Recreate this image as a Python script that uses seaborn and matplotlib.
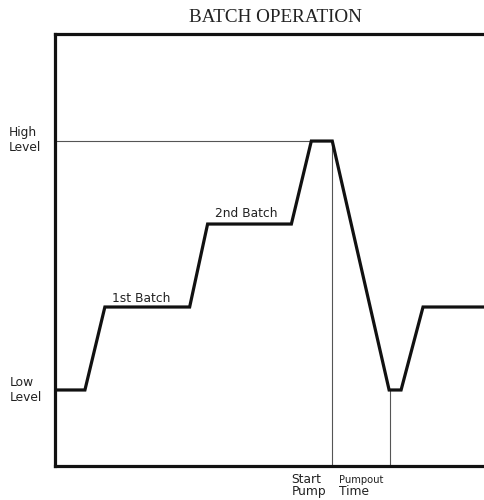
import matplotlib
matplotlib.use("Agg")
import matplotlib.pyplot as plt
import seaborn as sns
import pandas as pd

# ── Data ──────────────────────────────────────────────
# time points (arbitrary units) and tank level (0 = low, 3 = high)
time = [0, 30, 50, 135, 153, 237, 257, 278, 335, 347, 369, 430]
level = [0, 0, 1, 1, 2, 2, 3, 3, 0, 0, 1, 1]
high_level = 3
low_level = 0
start_pump_t = 278
pumpout_end_t = 336
batch_labels = ["1st Batch", "2nd Batch"]
batch_label_x = [57, 160]
batch_label_y = [1.10, 2.13]

df = pd.DataFrame({"time": time, "level": level})

sns.set_style("white")
plt.rcParams["font.family"] = ["DejaVu Sans"]

fig = plt.figure(figsize=(4.85, 5.0), dpi=100)
ax = fig.add_axes([55 / 485, 34 / 500, 1 - 55 / 485 + 0.01, 432 / 500])

# reference lines
ax.plot([0, start_pump_t - 20], [high_level, high_level], color="#555555", lw=0.8)
ax.plot([start_pump_t, start_pump_t], [-1, high_level], color="#555555", lw=0.8)
ax.plot([pumpout_end_t, pumpout_end_t], [-1, low_level], color="#555555", lw=0.8)

sns.lineplot(data=df, x="time", y="level", sort=False, color="#111111",
             lw=2.3, ax=ax, solid_joinstyle="miter")

ax.set_xlim(0, 436)
ax.set_ylim(-0.916, 4.29)
ax.set_xticks([])
ax.set_yticks([])
ax.set_xlabel("")
ax.set_ylabel("")
for side in ["left", "top", "bottom"]:
    ax.spines[side].set_linewidth(2.3)
    ax.spines[side].set_color("#111111")
ax.spines["right"].set_visible(False)

txt = dict(fontsize=8.8, va="center", ha="left", color="#222222", clip_on=False)
for lab, bx, by in zip(batch_labels, batch_label_x, batch_label_y):
    ax.text(bx, by, lab, **txt)

ax.text(-46, high_level + 0.01, "High\nLevel", linespacing=1.15, **txt)
ax.text(-45, low_level, "Low\nLevel", linespacing=1.15, **txt)
ax.text(237, -1.15, "Start\nPump", linespacing=0.95, **txt)
ax.text(285, -1.08, "Pumpout", fontsize=7.2, va="center", ha="left",
        color="#222222", clip_on=False)
ax.text(285, -1.22, "Time", **txt)

fig.text(275 / 485, 1 - 17 / 500, "BATCH OPERATION", ha="center", va="center",
         fontsize=13.8, family=["Liberation Serif", "DejaVu Serif"], color="#222222")

fig.savefig("out.png", dpi=100)
